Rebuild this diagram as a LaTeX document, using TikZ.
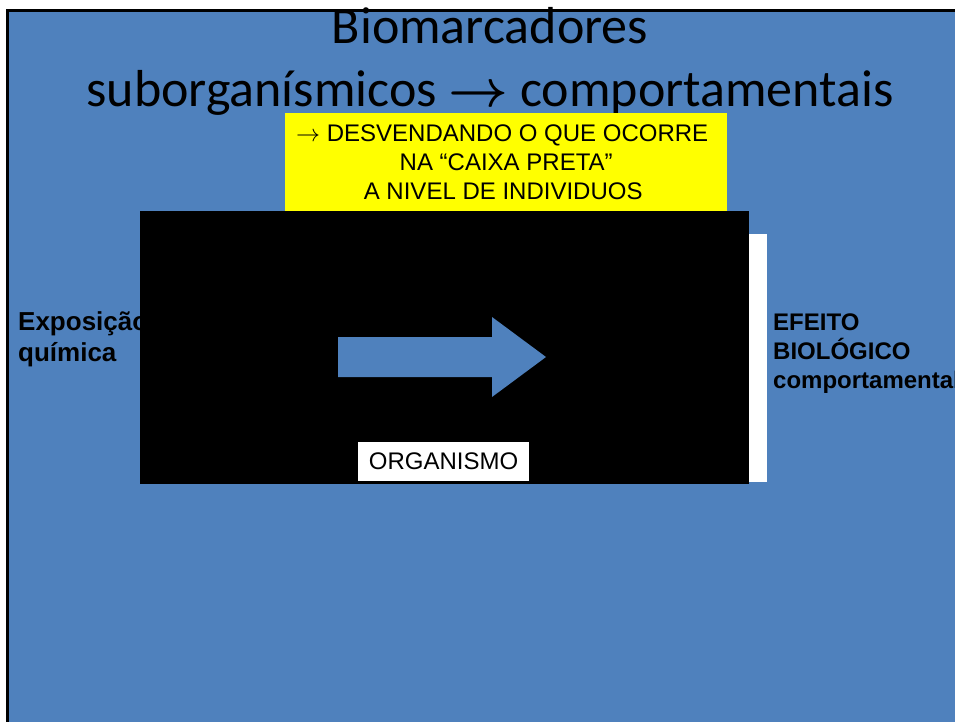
\documentclass[tikz,border=0pt]{standalone}
\usepackage{fix-cm}
\usepackage{fontspec}
\setmainfont{Carlito}
\newfontfamily\arialfont{Liberation Sans}
\usepackage{amsmath}
\usepackage{bm}
\usetikzlibrary{positioning}
\definecolor{slideblue}{HTML}{4F81BD}
\definecolor{caixayellow}{HTML}{FFFF00}

\begin{document}
\begin{tikzpicture}[
  x=1pt, y=-1pt,
  titletext/.style={font={\fontsize{52}{63}\selectfont}, align=center, inner sep=0pt},
  sidetext/.style={font={\arialfont\bfseries\fontsize{24}{29}\selectfont}, align=left, inner sep=0pt, anchor=base west},
  boxtext/.style={font={\arialfont\fontsize{24}{29}\selectfont}, align=center, inner sep=0pt},
  yellowbox/.style={boxtext, fill=caixayellow, anchor=north west, minimum width=442pt, minimum height=98pt},
  blackbox/.style={fill=black, anchor=north west, minimum width=609pt, minimum height=273pt, inner sep=0pt},
  whitebox/.style={boxtext, fill=white, minimum width=171pt, minimum height=39pt}
]
\useasboundingbox (0,0) rectangle (955,722);
\clip (0,0) rectangle (955,722);

% slide
\fill[slideblue] (9,12) rectangle (960,730);
\draw[line width=3pt] (7.5,730) -- (7.5,10.5) -- (960,10.5);

\node[titletext] (title) at (490,61)
  {Biomarcadores\\suborganísmicos $\bm{\rightarrow}$ comportamentais};

% base is the last line
\node[sidetext, font={\arialfont\bfseries\fontsize{26}{31}\selectfont}] (expo) at (18,361)
  {Exposição\\química};
\node[sidetext] (efeito) at (773,388)
  {EFEITO\\BIOLÓGICO\\comportamental};

\node[yellowbox] (caixa) at (285,113)
  {$\rightarrow$ DESVENDANDO O QUE OCORRE\hspace*{8pt}\\NA “CAIXA PRETA”\hspace*{8pt}\\A NIVEL DE INDIVIDUOS\hspace*{6pt}};

% black box with white edge behind
\node[fill=white, anchor=north east, minimum width=27pt, minimum height=248pt, inner sep=0pt] (strip) at (767,234) {};
\node[blackbox] (preta) at (140,211) {};

\fill[slideblue] (338,337) -- (492,337) -- (492,317) -- (546,357)
  -- (492,397) -- (492,377) -- (338,377) -- cycle;

\node[whitebox] (organismo) at (443.5,461.5) {ORGANISMO};

\end{tikzpicture}
\end{document}
